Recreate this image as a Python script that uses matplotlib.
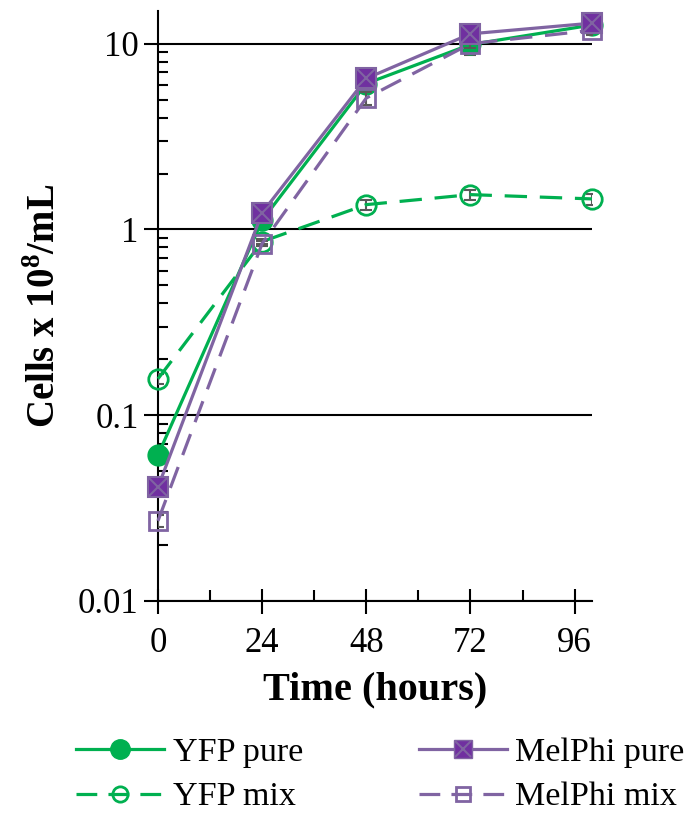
import numpy as np
import matplotlib.pyplot as plt
from matplotlib.lines import Line2D
from matplotlib.legend_handler import HandlerTuple
from matplotlib.ticker import FixedLocator, FuncFormatter

plt.rcParams['font.family'] = ['Liberation Serif', 'DejaVu Serif']
plt.rcParams['mathtext.fontset'] = 'custom'
plt.rcParams['mathtext.rm'] = 'Liberation Serif'
plt.rcParams['mathtext.bf'] = 'Liberation Serif:bold'

# time points (hours)
hours = [0, 24, 48, 72, 100]

# cells x 10^8 / mL
yfp_pure = [0.061, 1.12, 6.1, 9.9, 12.6]
yfp_mix = [0.157, 0.86, 1.36, 1.54, 1.46]
mel_pure = [0.041, 1.23, 6.5, 11.3, 12.9]
mel_mix = [0.027, 0.84, 5.1, 10.0, 11.8]

# standard errors
yfp_pure_err = [0.003, 0.04, 0.3, 1.2, 0.4]
yfp_mix_err = [0.01, 0.03, 0.08, 0.1, 0.1]
mel_pure_err = [0.002, 0.04, 0.3, 0.5, 0.5]
mel_mix_err = [0.002, 0.03, 0.4, 0.5, 0.6]

green = '#00B050'
purple_line = '#8064A2'
purple_fill = '#7030A0'
err_col = '#595959'

fig = plt.figure(figsize=(6.95, 8.13), dpi=100)
ax = fig.add_axes([0.2273, 0.2608, 0.6245, 0.7257])

lw = 2.3
ekw = dict(ecolor=err_col, elinewidth=1.5, capsize=4, capthick=1.5)

# YFP
ax.errorbar(hours, yfp_mix, yerr=yfp_mix_err, fmt='none', zorder=3, **ekw)
ax.plot(hours, yfp_mix, color=green, lw=lw, dashes=(7, 4), marker='o', ms=14,
        mfc='none', mec=green, mew=2, zorder=4, clip_on=False)
ax.errorbar(hours, yfp_pure, yerr=yfp_pure_err, fmt='none', zorder=3, **ekw)
ax.plot(hours, yfp_pure, color=green, lw=lw, marker='o', ms=15,
        mfc=green, mec=green, zorder=4, clip_on=False)

# MelPhi
ax.errorbar(hours, mel_mix, yerr=mel_mix_err, fmt='none', zorder=5, **ekw)
ax.plot(hours, mel_mix, color=purple_line, lw=lw, dashes=(7, 4), marker='s', ms=13,
        mfc='none', mec=purple_line, mew=2, zorder=6, clip_on=False)
ax.errorbar(hours, mel_pure, yerr=mel_pure_err, fmt='none', zorder=5, **ekw)
ax.plot(hours, mel_pure, color=purple_line, lw=lw, marker='s', ms=14,
        mfc=purple_fill, mec=purple_line, mew=1.5, zorder=6, clip_on=False)
ax.plot(hours, mel_pure, ls='none', marker='x', ms=13, mec=purple_line, mew=1.5,
        zorder=7, clip_on=False)

ax.set_yscale('log')
ax.set_ylim(0.01, 15)
ax.set_xlim(0, 100)

ax.yaxis.set_major_locator(FixedLocator([0.01, 0.1, 1, 10]))
ax.yaxis.set_major_formatter(FuncFormatter(lambda v, p: '%g' % v))
minors = [m * d for d in [0.01, 0.1, 1] for m in range(2, 10)]
ax.yaxis.set_minor_locator(FixedLocator(minors))
ax.yaxis.set_minor_formatter(FuncFormatter(lambda v, p: ''))
ax.set_xticks([0, 24, 48, 72, 96])
ax.set_xticks([12, 36, 60, 84], minor=True)

ax.grid(axis='y', which='major', color='black', lw=1.5)
ax.set_axisbelow(True)

for side in ['top', 'right']:
    ax.spines[side].set_visible(False)
for side in ['left', 'bottom']:
    ax.spines[side].set_linewidth(1.5)

ax.tick_params(axis='y', which='major', direction='out', length=10, width=1.5,
               labelsize=25, pad=4)
ax.tick_params(axis='y', which='minor', direction='in', length=7, width=1.5)
ax.tick_params(axis='x', which='major', direction='inout', length=18, width=1.5,
               labelsize=25, pad=10)
ax.tick_params(axis='x', which='minor', direction='in', length=8, width=1.5)

ax.set_xlabel('Time (hours)', fontsize=29, fontweight='bold', labelpad=8)
ax.set_ylabel(r'Cells x 10$^{\mathbf{8}}$/mL', fontsize=28, fontweight='bold', labelpad=10)

h_yp = Line2D([], [], color=green, lw=lw, marker='o', ms=14, mfc=green, mec=green)
h_ym = Line2D([], [], color=green, lw=lw, dashes=(6.5, 3.5), marker='o', ms=11,
              mfc='none', mec=green, mew=2)
h_mp = (Line2D([], [], color=purple_line, lw=lw, marker='s', ms=13,
               mfc=purple_fill, mec=purple_line),
        Line2D([], [], ls='none', marker='x', ms=12, mec=purple_line, mew=1.5))
h_mm = Line2D([], [], color=purple_line, lw=lw, dashes=(6.5, 3.5), marker='s', ms=10,
              mfc='none', mec=purple_line, mew=2)

fig.legend([h_yp, h_ym, h_mp, h_mm], ['YFP pure', 'YFP mix', 'MelPhi pure', 'MelPhi mix'],
           ncol=2, loc='center', bbox_to_anchor=(0.547, 0.047), frameon=False,
           fontsize=24.5, handlelength=2.6, handletextpad=0.25, columnspacing=3.4,
           labelspacing=0.4, borderaxespad=0.0,
           handler_map={tuple: HandlerTuple(ndivide=1)})

fig.savefig('out.png', dpi=100)
